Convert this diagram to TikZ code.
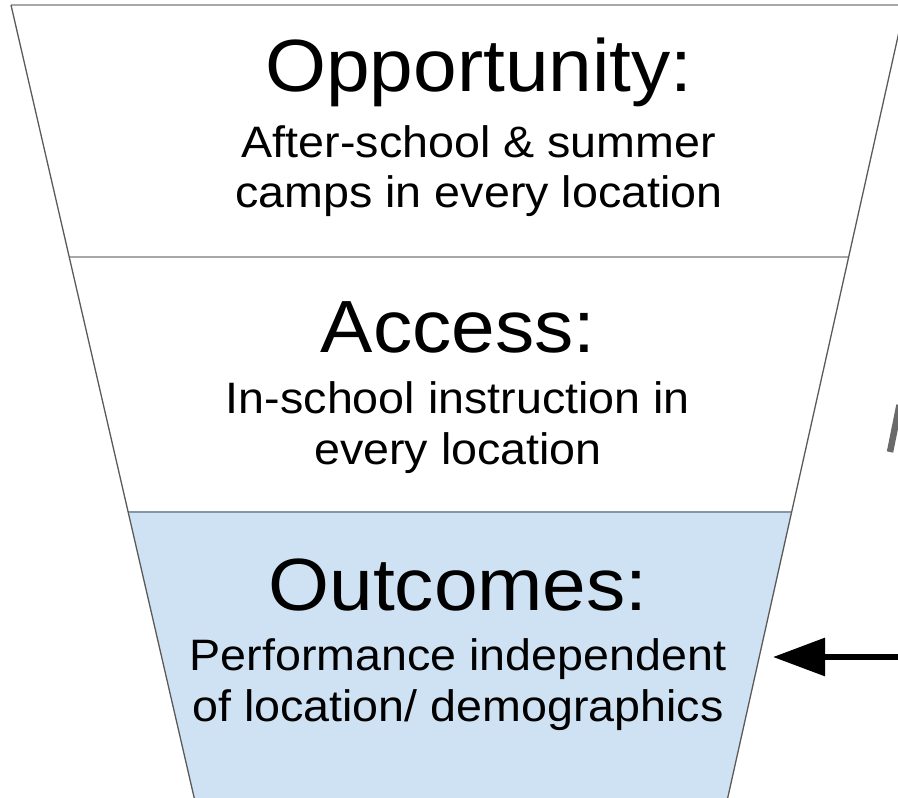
\documentclass[tikz,border=0pt]{standalone}
\usepackage{fontspec}
\usetikzlibrary{arrows.meta}

\newfontfamily\funnelfont[FakeStretch=1.06]{Liberation Sans}

\definecolor{funnelblue}{HTML}{CFE2F3}
\definecolor{edgegray}{HTML}{5A5A5A}
\definecolor{rulegray}{HTML}{A8A8A8}
\definecolor{bluerule}{HTML}{8496A8}
\definecolor{glyphgray}{HTML}{6A6A6A}

\begin{document}
\begin{tikzpicture}[x=1pt, y=-1pt,
  heading/.style={font=\funnelfont\fontsize{74}{82}\selectfont, anchor=base, inner sep=0pt},
  detail/.style={font=\funnelfont\fontsize{44}{50}\selectfont, anchor=base, inner sep=0pt}]
  \useasboundingbox (0,0) rectangle (898,798);
  \clip (0,0) rectangle (898,798);

  % funnel corners
  \coordinate (tl) at (11,5);
  \coordinate (tr) at (905,5);
  \coordinate (ml) at (69,257);
  \coordinate (mr) at (849,257);
  \coordinate (ll) at (128,512);
  \coordinate (lr) at (792,512);
  \coordinate (bl) at (197,810);
  \coordinate (br) at (725,810);

  % outcomes layer
  \fill[funnelblue] (ll) -- (lr) -- (br) -- (bl) -- cycle;

  % layer rules
  \draw[rulegray, line width=2.2] (tl) -- (tr);
  \draw[rulegray, line width=2] (ml) -- (mr);
  \draw[bluerule, line width=2] (ll) -- (lr);

  % funnel sides
  \draw[edgegray, line width=1.3] (tl) -- (bl);
  \draw[edgegray, line width=1.3] (tr) -- (br);

  % layer texts
  \node[heading] (opp) at (479,91) {Opportunity:};
  \node[detail] (opp1) at (479,157) {After-school \& summer};
  \node[detail] (opp2) at (479,207) {camps in every location};
  \node[heading] (acc) at (458,352) {Access:};
  \node[detail] (acc1) at (458,413) {In-school instruction in};
  \node[detail] (acc2) at (458,464) {every location};
  \node[heading] (out) at (458,610) {Outcomes:};
  \node[detail] (out1) at (458,670) {Performance independent};
  \node[detail] (out2) at (458,721) {of location/ demographics};

  % pointer into the outcomes layer
  \coordinate (pointer) at (910,657);
  \coordinate (target) at (773,657);
  \draw[-{Triangle[length=52pt,width=37pt]}, line width=6] (pointer) -- (target);

  % stroke of the cut-off glyph at the right border
  \draw[glyphgray, line width=6.5] (890,452) -- (899.5,405);
\end{tikzpicture}
\end{document}
